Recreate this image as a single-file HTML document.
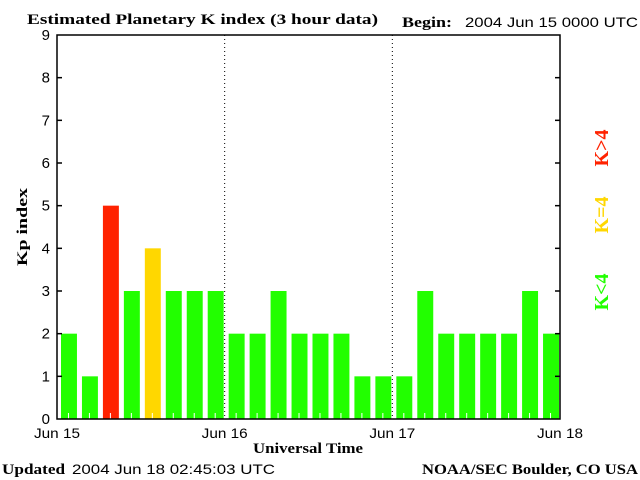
<!DOCTYPE html>
<html><head><meta charset="utf-8"><style>
html,body{margin:0;padding:0;background:#fff;}
svg{display:block;}
.ser{font-family:"Liberation Serif",serif;font-weight:bold;}
.san{font-family:"Liberation Sans",sans-serif;}
</style></head><body>
<svg id="chart" width="640" height="480" xmlns="http://www.w3.org/2000/svg">
<text class="ser" x="27" y="24" font-size="15" textLength="351" lengthAdjust="spacingAndGlyphs">Estimated Planetary K index (3 hour data)</text>
<text class="ser" x="402" y="27" font-size="15" textLength="50" lengthAdjust="spacingAndGlyphs">Begin:</text>
<text class="san" x="465" y="27" font-size="14" textLength="173" lengthAdjust="spacingAndGlyphs">2004 Jun 15 0000 UTC</text>
<g id="plot"></g>
<text class="ser" font-size="15" transform="translate(27,227) rotate(-90)" text-anchor="middle" textLength="78" lengthAdjust="spacingAndGlyphs">Kp index</text>
<text class="ser" x="308" y="453" font-size="15" text-anchor="middle" textLength="110" lengthAdjust="spacingAndGlyphs">Universal Time</text>
<text class="ser" font-size="20" fill="#ff2200" transform="translate(608,148) rotate(-90)" text-anchor="middle">K&gt;4</text>
<text class="ser" font-size="20" fill="#ffd700" transform="translate(608,215) rotate(-90)" text-anchor="middle">K=4</text>
<text class="ser" font-size="20" fill="#22ff00" transform="translate(608,292) rotate(-90)" text-anchor="middle">K&lt;4</text>
<text class="ser" x="2" y="474" font-size="15" textLength="63" lengthAdjust="spacingAndGlyphs">Updated</text>
<text class="san" x="72" y="474" font-size="14" textLength="203" lengthAdjust="spacingAndGlyphs">2004 Jun 18 02:45:03 UTC</text>
<text class="ser" x="422" y="474" font-size="15" textLength="216" lengthAdjust="spacingAndGlyphs">NOAA/SEC Boulder, CO USA</text>
</svg>
<script>
const kpValues=[2,1,5,3,4,3,3,3, 2,2,3,2,2,2,1,1, 1,3,2,2,2,2,3,2];
const yTicks=[0,1,2,3,4,5,6,7,8,9];
const dayLabels=["Jun 15","Jun 16","Jun 17","Jun 18"];
const NS="http://www.w3.org/2000/svg";
const L=57,R=560,T=35,B=419;
const slot=(R-L)/kpValues.length;
const y=k=>B-k*(B-T)/9;
const x=i=>L+i*slot;
const g=document.getElementById('plot');
function mk(tag,attrs){const e=document.createElementNS(NS,tag);for(const k in attrs)e.setAttribute(k,attrs[k]);g.appendChild(e);return e;}
kpValues.forEach((v,i)=>{
  const c=v>4?'#ff2200':(v==4?'#ffd700':'#22ff00');
  const r=mk('rect',{x:x(i)+4,y:y(v),width:slot-5,height:B-y(v),fill:c});
  
  
  const t=mk('line',{x1:x(i)+slot/2+1,x2:x(i)+slot/2+1,y1:B,y2:B-6,stroke:'#fff','stroke-width':1});
  
  
});
dayLabels.forEach((d,i)=>{
  const xx=L+i*(R-L)/3;
  if(i>0&&i<3){const l=mk('line',{x1:xx,x2:xx,y1:T,y2:B,stroke:'#000','stroke-dasharray':'1,3'});
    
    }
  const t=mk('text',{x:xx,y:438,'text-anchor':'middle','font-size':14,class:'san',textLength:46,lengthAdjust:'spacingAndGlyphs'});
  t.textContent=d;
  
  
});
yTicks.forEach(k=>{
  const t=mk('text',{x:50,y:y(k)+5,'text-anchor':'end','font-size':15,class:'san'});
  t.textContent=k;
  
  
  if(k>0&&k<9){
    const a=mk('line',{x1:L,x2:L+5,y1:y(k),y2:y(k),stroke:'#000','stroke-width':1.5});
    
    
    const b=mk('line',{x1:R-5,x2:R,y1:y(k),y2:y(k),stroke:'#000','stroke-width':1.5});
    
    
  }
});
const fr=mk('rect',{x:L,y:T,width:R-L,height:B-T,fill:'none',stroke:'#000','stroke-width':1.5});


</script>
</body></html>
